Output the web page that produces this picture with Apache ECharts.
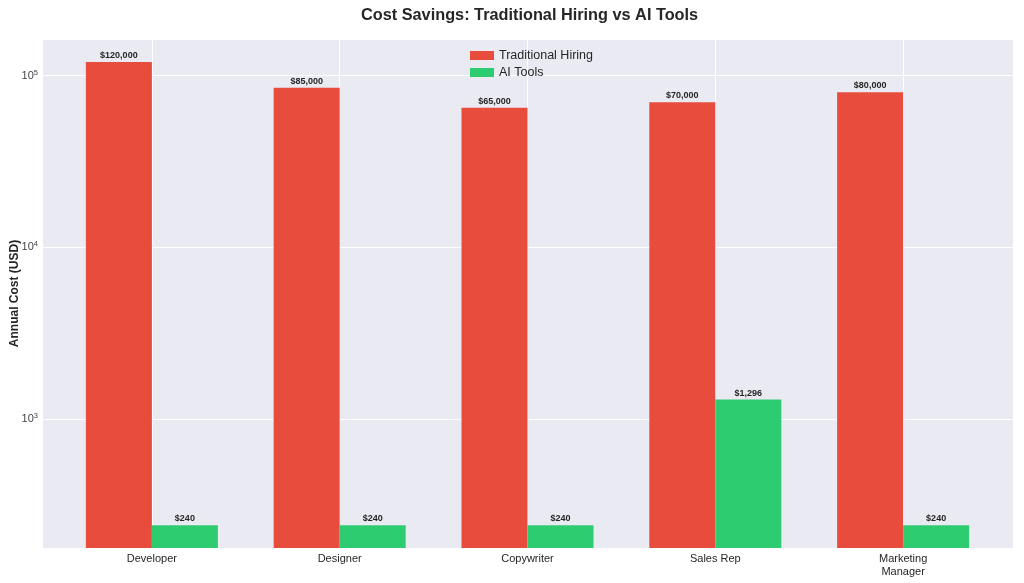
<!DOCTYPE html>
<html>
<head>
<meta charset="utf-8">
<script src="https://cdn.jsdelivr.net/npm/echarts@6/dist/echarts.min.js"></script>
<style>
  html, body { margin: 0; padding: 0; background: #fff; }
  #main { width: 1024px; height: 583px; }
</style>
</head>
<body>
<div id="main"></div>
<script>
var roles = ['Developer', 'Designer', 'Copywriter', 'Sales Rep', 'Marketing\nManager'];
var traditional = [120000, 85000, 65000, 70000, 80000];
var aiTools = [240, 240, 240, 1296, 240];
var yMin = 177;
var yMax = 163600;

function pairs(vals) {
    var out = [];
    for (var i = 0; i < vals.length; i++) {
        out.push([i, vals[i]]);
    }
    return out;
}

function money(v) {
    return '$' + v.toLocaleString('en-US');
}

var labelStyle = {
    show: true,
    position: 'top',
    distance: 2,
    fontFamily: 'Liberation Sans',
    fontWeight: 'bold',
    fontSize: 9,
    color: '#262626',
    formatter: function (p) { return money(p.value[1]); }
};

var option = {
    backgroundColor: '#ffffff',
    animation: false,
    textStyle: { fontFamily: 'Liberation Sans' },
    title: {
        text: 'Cost Savings: Traditional Hiring vs AI Tools',
        left: 356,
        top: 3,
        textStyle: { fontSize: 16.3, fontWeight: 'bold', color: '#262626', fontFamily: 'Liberation Sans' }
    },
    legend: {
        orient: 'vertical',
        left: 465,
        top: 44,
        itemWidth: 24,
        itemHeight: 9,
        itemGap: 4,
        icon: 'rect',
        textStyle: { fontSize: 12.5, color: '#262626', fontFamily: 'Liberation Sans' }
    },
    grid: {
        left: 42,
        right: 11,
        top: 39,
        bottom: 35,
        containLabel: false,
        outerBoundsMode: 'none',
        backgroundColor: '#eaeaf2',
        show: true,
        borderWidth: 0
    },
    xAxis: {
        type: 'value',
        min: -0.585,
        max: 4.585,
        minInterval: 1,
        maxInterval: 1,
        axisLine: { show: false },
        axisTick: { show: false },
        splitLine: { show: true, lineStyle: { color: '#ffffff', width: 1 } },
        axisLabel: {
            fontSize: 11,
            color: '#262626',
            lineHeight: 13,
            margin: 4,
            showMinLabel: false,
            showMaxLabel: false,
            formatter: function (v) {
                var i = Math.round(v);
                if (Math.abs(v - i) > 1e-6) return '';
                return roles[i] || '';
            }
        }
    },
    yAxis: {
        type: 'log',
        logBase: 10,
        min: yMin,
        max: yMax,
        name: 'Annual Cost (USD)',
        nameLocation: 'middle',
        nameGap: 21,
        nameMoveOverlap: false,
        nameTextStyle: { fontSize: 12, fontWeight: 'bold', color: '#262626' },
        axisLine: { show: false },
        axisTick: { show: false },
        splitLine: { show: true, lineStyle: { color: '#ffffff', width: 1 } },
        axisLabel: {
            margin: 4,
            color: '#444',
            fontSize: 11,
            showMinLabel: false,
            showMaxLabel: false,
            formatter: function (v) {
                var e = Math.log10(v);
                if (Math.abs(e - Math.round(e)) > 1e-6) return '';
                return '10{sup|' + Math.round(e) + '}';
            },
            rich: {
                sup: { fontSize: 7.5, verticalAlign: 'top', padding: [0, 0, 6, 0], color: '#444' }
            }
        }
    },
    series: [
        {
            name: 'Traditional Hiring',
            type: 'bar',
            barWidth: 66,
            barGap: '0%',
            clip: true,
            itemStyle: { color: '#e74c3c' },
            label: labelStyle,
            data: pairs(traditional)
        },
        {
            name: 'AI Tools',
            type: 'bar',
            barWidth: 66,
            barGap: '0%',
            clip: true,
            itemStyle: { color: '#2ecc71' },
            label: labelStyle,
            data: pairs(aiTools)
        }
    ]
};

var chart = echarts.init(document.getElementById('main'));
chart.setOption(option);
</script>
</body>
</html>
